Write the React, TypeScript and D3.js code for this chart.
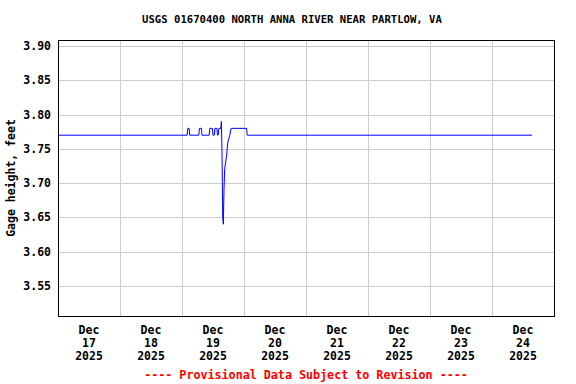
import React from "react";
import * as d3 from "d3";

const TITLE = "USGS 01670400 NORTH ANNA RIVER NEAR PARTLOW, VA";
const Y_LABEL = "Gage height, feet";
const FOOTER = "---- Provisional Data Subject to Revision ----";

const yTicks = [3.55, 3.6, 3.65, 3.7, 3.75, 3.8, 3.85, 3.9];
const dayTicks = ["2025-12-17", "2025-12-18", "2025-12-19", "2025-12-20", "2025-12-21", "2025-12-22", "2025-12-23", "2025-12-24"];
const dayLabels = [["Dec", "17", "2025"], ["Dec", "18", "2025"], ["Dec", "19", "2025"], ["Dec", "20", "2025"], ["Dec", "21", "2025"], ["Dec", "22", "2025"], ["Dec", "23", "2025"], ["Dec", "24", "2025"]];

// Gage height observations (time, feet)
const times = [
  "2025-12-17T00:00", "2025-12-19T02:00", "2025-12-19T02:15", "2025-12-19T02:45", "2025-12-19T03:00",
  "2025-12-19T06:30", "2025-12-19T06:45", "2025-12-19T07:30", "2025-12-19T07:45",
  "2025-12-19T10:30", "2025-12-19T10:45", "2025-12-19T11:45", "2025-12-19T12:00",
  "2025-12-19T12:30", "2025-12-19T12:45", "2025-12-19T13:30", "2025-12-19T13:45",
  "2025-12-19T14:00", "2025-12-19T14:15", "2025-12-19T15:00", "2025-12-19T15:15",
  "2025-12-19T15:30", "2025-12-19T15:45", "2025-12-19T16:00", "2025-12-19T16:15",
  "2025-12-19T16:30", "2025-12-19T17:15", "2025-12-19T17:45", "2025-12-19T18:30",
  "2025-12-19T19:00", "2025-12-20T01:00", "2025-12-20T01:15",
  "2025-12-24T15:30",
];
const heights = [
  3.77, 3.77, 3.78, 3.78, 3.77,
  3.77, 3.78, 3.78, 3.77,
  3.77, 3.78, 3.78, 3.77,
  3.77, 3.78, 3.78, 3.77,
  3.77, 3.78, 3.78, 3.79,
  3.74, 3.65, 3.64, 3.69,
  3.72, 3.74, 3.76, 3.77,
  3.78, 3.78, 3.77,
  3.77,
];

const W = 576, H = 384;
const M = { left: 58, right: 554, top: 40, bottom: 316 };
const FONT = "'DejaVu Sans Mono', monospace";

export default function App() {
  const parse = d3.timeParse("%Y-%m-%dT%H:%M");
  const parseDay = d3.timeParse("%Y-%m-%d");
  const x = d3.scaleTime()
    .domain([parseDay("2025-12-17")!, parseDay("2025-12-25")!])
    .range([M.left, M.right]);
  const y = d3.scaleLinear().domain([3.506, 3.909]).range([M.bottom, M.top]);

  const data = times.map((t, i) => ({ t: parse(t)!, v: heights[i] }));
  const line = d3.line<{ t: Date; v: number }>().x(d => x(d.t)).y(d => y(d.v));

  const days = dayTicks.map(d => parseDay(d)!);
  const gridDays = days.slice(1);

  return (
    <svg width={W} height={H} style={{ position: "absolute", left: 0, top: 0, background: "#fff" }}>
      <rect x={0} y={0} width={W} height={H} fill="#fff" />
      <text x={292} y={23} textAnchor="middle" fontFamily={FONT} fontWeight="bold" fontSize={10.6} fill="#000">{TITLE}</text>
      {yTicks.map(v => (
        <line key={"gy" + v} x1={M.left} x2={M.right} y1={Math.round(y(v)) + 0.5} y2={Math.round(y(v)) + 0.5} stroke="#cccccc" strokeWidth={1} />
      ))}
      {gridDays.map((d, i) => (
        <line key={"gx" + i} x1={Math.round(x(d)) + 0.5} x2={Math.round(x(d)) + 0.5} y1={M.top} y2={M.bottom} stroke="#cccccc" strokeWidth={1} />
      ))}
      <path d={line(data) || ""} fill="none" stroke="#0000ff" strokeWidth={1} />
      <rect x={M.left + 0.5} y={M.top + 0.5} width={M.right - M.left} height={M.bottom - M.top} fill="none" stroke="#000" strokeWidth={1} />
      {yTicks.map(v => (
        <text key={"ty" + v} x={51} y={y(v)} dy="0.35em" textAnchor="end" fontFamily={FONT} fontWeight="bold" fontSize={11.5} fill="#000">{v.toFixed(2)}</text>
      ))}
      <text transform={`translate(11,${(M.top + M.bottom) / 2}) rotate(-90)`} textAnchor="middle" dy="0.35em" fontFamily={FONT} fontWeight="bold" fontSize={11.5} fill="#000">{Y_LABEL}</text>
      {days.map((d, i) => {
        const cx = x(d3.timeHour.offset(d, 12));
        return dayLabels[i].map((s, j) => (
          <text key={"tx" + i + "_" + j} x={cx} y={330 + j * 13} dy="0.35em" textAnchor="middle" fontFamily={FONT} fontWeight="bold" fontSize={11.5} fill="#000">{s}</text>
        ));
      })}
      <text x={(M.left + M.right) / 2} y={375} dy="0.35em" textAnchor="middle" fontFamily={FONT} fontWeight="bold" fontSize={11.7} fill="#ff0000">{FOOTER}</text>
    </svg>
  );
}
